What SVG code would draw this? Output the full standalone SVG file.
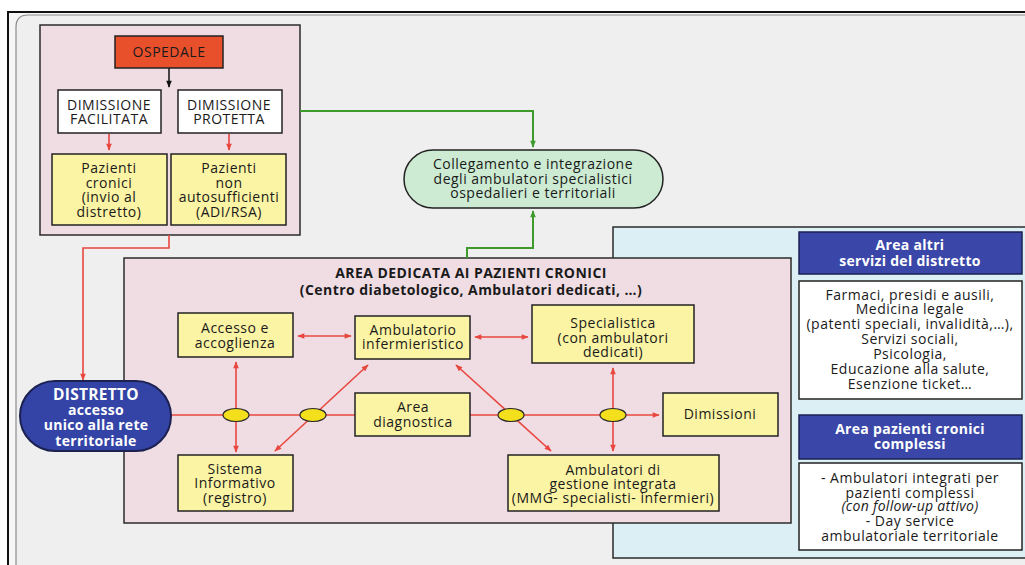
<svg xmlns="http://www.w3.org/2000/svg" width="1025" height="565" viewBox="0 0 1025 565">
  <style>
    text { font-family: "Open Sans", "Liberation Sans", sans-serif; font-size: 14px; letter-spacing: 0.5px; fill: #1a1a1a; text-anchor: middle; }
    .b { font-weight: bold; letter-spacing: 0.45px; }
    .w { fill: #ffffff; font-weight: bold; letter-spacing: 0.3px; }
    .big { font-size: 15.5px; }
    .it { font-style: italic; letter-spacing: 0.3px; }
    .panel { stroke: #2b2b2b; stroke-width: 1.5; }
    .box { stroke: #222; stroke-width: 1.5; }
    .yel { fill: #fbf4a4; }
    .red { stroke: #e8473f; stroke-width: 1.6; fill: none; }
    .grn { stroke: #3f9a2c; stroke-width: 2; fill: none; }
    .knot { fill: #f3df1c; stroke: #2a2a2a; stroke-width: 1.2; }
  </style>
  <defs>
    <marker id="ar" viewBox="0 0 10 10" refX="9" refY="5" markerWidth="9" markerHeight="7" orient="auto-start-reverse" markerUnits="userSpaceOnUse">
      <path d="M0,1 L10,5 L0,9 z" fill="#e8473f"/>
    </marker>
    <marker id="ag" viewBox="0 0 10 10" refX="9" refY="5" markerWidth="9" markerHeight="7" orient="auto" markerUnits="userSpaceOnUse">
      <path d="M0,1 L10,5 L0,9 z" fill="#3f9a2c"/>
    </marker>
    <marker id="ak" viewBox="0 0 10 10" refX="9" refY="5" markerWidth="8" markerHeight="7" orient="auto" markerUnits="userSpaceOnUse">
      <path d="M0,1 L10,5 L0,9 z" fill="#111"/>
    </marker>
  </defs>

  <!-- page frame -->
  <rect x="0" y="0" width="1025" height="565" fill="#ffffff"/>
  <rect x="8" y="12" width="1030" height="560" fill="#f6f6f6" stroke="#111" stroke-width="2"/>
  <path d="M16,566 V27 Q16,15 28,15 H1026 V566 Z" fill="#efefef" stroke="#8a8a8a" stroke-width="1.2"/>

  <!-- hospital panel -->
  <g id="hospital-panel">
    <rect class="panel" x="40" y="25" width="260" height="210" fill="#f0dde4"/>
  </g>

  <!-- district services panel -->
  <g id="district-panel">
    <rect class="panel" x="613" y="227" width="420" height="331" fill="#dbeff4"/>
  </g>

  <!-- chronic patients area -->
  <g id="chronic-area">
    <rect class="panel" x="124" y="258" width="667" height="265" fill="#f0dde4"/>
    <text class="b" x="471" y="278">AREA DEDICATA AI PAZIENTI CRONICI</text>
    <text class="b" x="471" y="295">(Centro diabetologico, Ambulatori dedicati, …)</text>
  </g>

  <!-- connectors -->
  <g id="connectors">
    <line x1="169" y1="68" x2="169" y2="87" stroke="#111" stroke-width="1.5" marker-end="url(#ak)"/>
    <line class="red" x1="109" y1="134" x2="109" y2="150" marker-end="url(#ar)"/>
    <line class="red" x1="229" y1="134" x2="229" y2="150" marker-end="url(#ar)"/>
    <polyline class="red" points="169,235 169,248 83,248 83,380" marker-end="url(#ar)"/>
    <polyline class="grn" points="300,111 533,111 533,147" marker-end="url(#ag)"/>
    <polyline class="grn" points="467,258 467,248 533,248 533,211" marker-end="url(#ag)"/>

    <line class="red" x1="171" y1="415" x2="355" y2="415"/>
    <line class="red" x1="470" y1="415" x2="659" y2="415" marker-end="url(#ar)"/>
    <line class="red" x1="236" y1="362" x2="236" y2="452" marker-start="url(#ar)" marker-end="url(#ar)"/>
    <line class="red" x1="613" y1="368" x2="613" y2="451" marker-start="url(#ar)" marker-end="url(#ar)"/>
    <line class="red" x1="368" y1="365" x2="275" y2="451" marker-start="url(#ar)" marker-end="url(#ar)"/>
    <line class="red" x1="456" y1="365" x2="551" y2="451" marker-start="url(#ar)" marker-end="url(#ar)"/>
    <line class="red" x1="298" y1="336" x2="351" y2="336" marker-start="url(#ar)" marker-end="url(#ar)"/>
    <line class="red" x1="475" y1="337" x2="528" y2="337" marker-start="url(#ar)" marker-end="url(#ar)"/>

    <ellipse class="knot" cx="236" cy="415" rx="13" ry="6.5"/>
    <ellipse class="knot" cx="313" cy="415" rx="13" ry="6.5"/>
    <ellipse class="knot" cx="511" cy="415" rx="13" ry="6.5"/>
    <ellipse class="knot" cx="613" cy="415" rx="13" ry="6.5"/>
  </g>

  <g id="ospedale">
    <rect class="box" x="115" y="36" width="108" height="32" fill="#e8502c"/>
    <text x="169" y="57">OSPEDALE</text>
  </g>

  <g id="dimissione-facilitata">
    <rect class="box" x="58" y="90" width="103" height="43" fill="#ffffff"/>
    <text x="109" y="110">DIMISSIONE</text>
    <text x="109" y="124">FACILITATA</text>
  </g>

  <g id="dimissione-protetta">
    <rect class="box" x="178" y="90" width="104" height="43" fill="#ffffff"/>
    <text x="229" y="110">DIMISSIONE</text>
    <text x="229" y="124">PROTETTA</text>
  </g>

  <g id="pazienti-cronici">
    <rect class="box yel" x="52" y="154" width="115" height="71"/>
    <text x="109" y="173">Pazienti</text>
    <text x="109" y="188">cronici</text>
    <text x="109" y="202">(invio al</text>
    <text x="109" y="217">distretto)</text>
  </g>

  <g id="pazienti-non-autosufficienti">
    <rect class="box yel" x="171" y="154" width="115" height="71"/>
    <text x="229" y="173">Pazienti</text>
    <text x="229" y="188">non</text>
    <text x="229" y="202">autosufficienti</text>
    <text x="229" y="217">(ADI/RSA)</text>
  </g>

  <g id="collegamento">
    <rect x="404" y="150" width="259" height="58" rx="29" fill="#cdebd3" stroke="#222" stroke-width="1.5"/>
    <text x="533" y="169">Collegamento e integrazione</text>
    <text x="533" y="184">degli ambulatori specialistici</text>
    <text x="533" y="198">ospedalieri e territoriali</text>
  </g>

  <g id="distretto">
    <rect x="20" y="381" width="151" height="70" rx="35" fill="#3443a6" stroke="#1b2150" stroke-width="2"/>
    <text class="w big" x="96" y="400">DISTRETTO</text>
    <text class="w" x="96" y="415">accesso</text>
    <text class="w" x="96" y="430">unico alla rete</text>
    <text class="w" x="96" y="446">territoriale</text>
  </g>

  <g id="accesso">
    <rect class="box yel" x="178" y="313" width="115" height="44"/>
    <text x="235" y="333">Accesso e</text>
    <text x="235" y="348">accoglienza</text>
  </g>

  <g id="sistema-informativo">
    <rect class="box yel" x="178" y="455" width="115" height="56"/>
    <text x="235" y="474">Sistema</text>
    <text x="235" y="488">Informativo</text>
    <text x="235" y="503">(registro)</text>
  </g>

  <g id="ambulatorio-infermieristico">
    <rect class="box yel" x="355" y="316" width="115" height="43"/>
    <text x="413" y="335">Ambulatorio</text>
    <text x="413" y="349">infermieristico</text>
  </g>

  <g id="area-diagnostica">
    <rect class="box yel" x="355" y="393" width="115" height="43"/>
    <text x="413" y="412">Area</text>
    <text x="413" y="427">diagnostica</text>
  </g>

  <g id="specialistica">
    <rect class="box yel" x="532" y="305" width="162" height="58"/>
    <text x="613" y="328">Specialistica</text>
    <text x="613" y="343">(con ambulatori</text>
    <text x="613" y="357">dedicati)</text>
  </g>

  <g id="dimissioni">
    <rect class="box yel" x="663" y="393" width="115" height="43"/>
    <text x="720" y="419">Dimissioni</text>
  </g>

  <g id="ambulatori-gestione-integrata">
    <rect class="box yel" x="508" y="455" width="211" height="56"/>
    <text x="613" y="475">Ambulatori di</text>
    <text x="613" y="489">gestione integrata</text>
    <text x="613" y="503">(MMG- specialisti- infermieri)</text>
  </g>

  <g id="area-altri-servizi">
    <rect x="799" y="232" width="223" height="42" fill="#3a47a8" stroke="#1b2150" stroke-width="1.5"/>
    <text class="w" x="910" y="250">Area altri</text>
    <text class="w" x="910" y="266">servizi del distretto</text>
  </g>

  <g id="altri-servizi-elenco">
    <rect class="box" x="799" y="281" width="223" height="118" fill="#ffffff"/>
    <text x="910" y="300">Farmaci, presidi e ausili,</text>
    <text x="910" y="314">Medicina legale</text>
    <text x="910" y="329">(patenti speciali, invalidità,…),</text>
    <text x="910" y="344">Servizi sociali,</text>
    <text x="910" y="359">Psicologia,</text>
    <text x="910" y="374">Educazione alla salute,</text>
    <text x="910" y="389">Esenzione ticket…</text>
  </g>

  <g id="area-cronici-complessi">
    <rect x="799" y="415" width="223" height="44" fill="#3a47a8" stroke="#1b2150" stroke-width="1.5"/>
    <text class="w" x="910" y="434">Area pazienti cronici</text>
    <text class="w" x="910" y="449">complessi</text>
  </g>

  <g id="cronici-complessi-elenco">
    <rect class="box" x="799" y="463" width="223" height="87" fill="#ffffff"/>
    <text x="910" y="483">- Ambulatori integrati per</text>
    <text x="910" y="498">pazienti complessi</text>
    <text class="it" x="910" y="511">(con follow-up attivo)</text>
    <text x="910" y="526">- Day service</text>
    <text x="910" y="541">ambulatoriale territoriale</text>
  </g>
</svg>
